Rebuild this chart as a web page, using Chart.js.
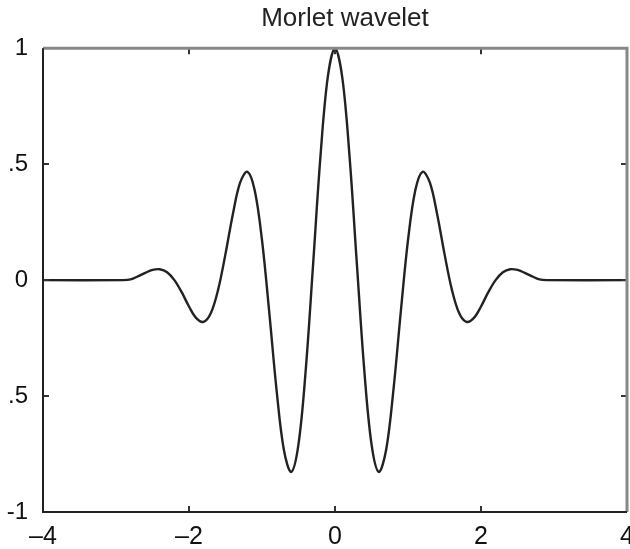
<!DOCTYPE html>
<html>
<head>
<meta charset="utf-8">
<script src="https://cdn.jsdelivr.net/npm/chart.js@4"></script>
<style>
  html, body { margin: 0; padding: 0; background: #fff; }
  canvas { display: block; }
</style>
</head>
<body>
<canvas id="waveletChart" width="630" height="549"></canvas>
<script>
// valeurs (ondelette de Morlet)
const xs = [-4, -2.9,
  -2.8, -2.7, -2.6, -2.5, -2.4, -2.3, -2.2, -2.1, -2.0, -1.9,
  -1.8, -1.7, -1.6, -1.5, -1.4, -1.3, -1.2, -1.1, -1.0, -0.9,
  -0.8, -0.7, -0.6, -0.5, -0.4, -0.3, -0.2, -0.1,
  0,
  0.1, 0.2, 0.3, 0.4, 0.5, 0.6, 0.7, 0.8, 0.9, 1.0,
  1.1, 1.2, 1.3, 1.4, 1.5, 1.6, 1.7, 1.8, 1.9, 2.0,
  2.1, 2.2, 2.3, 2.4, 2.5, 2.6, 2.7, 2.8,
  2.9, 4];
const ys = [0, 0,
  0.003, 0.016, 0.031, 0.044, 0.047, 0.034, 0.000, -0.052, -0.114, -0.164,
  -0.180, -0.142, -0.040, 0.113, 0.283, 0.420, 0.467, 0.387, 0.172, -0.141,
  -0.475, -0.733, -0.827, -0.707, -0.384, 0.068, 0.530, 0.873,
  1,
  0.873, 0.530, 0.068, -0.384, -0.707, -0.827, -0.733, -0.475, -0.141, 0.172,
  0.387, 0.467, 0.420, 0.283, 0.113, -0.040, -0.142, -0.180, -0.164, -0.114,
  -0.052, 0.000, 0.034, 0.047, 0.044, 0.031, 0.016, 0.003,
  0, 0];
const xTicks = [-4, -2, 0, 2, 4];
const xTickLabels = ['\u20134', '\u20132', '0', '2', '4'];
const yTicks = [-1, -0.5, 0, 0.5, 1];
const yTickLabels = ['-1', '.5', '0', '.5', '1'];

const fontFamily = '"Liberation Sans", Arial, Helvetica, sans-serif';

// cadre + graduations vers l'intérieur (style matlab)
const framePlugin = {
    id: 'frame',
    afterLayout(chart) {
        // titre centré au-dessus du cadre, pas du canvas
        if (chart.titleBlock) {
            chart.titleBlock.left = chart.chartArea.left + 10;
            chart.titleBlock.right = chart.chartArea.right + 10;
        }
    },
    afterDatasetsDraw(chart) {
        const { ctx, chartArea: a, scales } = chart;
        const len = 6;
        ctx.save();
        ctx.strokeStyle = '#333';
        ctx.lineWidth = 2;
        xTicks.slice(1, -1).forEach(v => {
            const px = Math.round(scales.x.getPixelForValue(v));
            ctx.beginPath();
            ctx.moveTo(px, a.bottom); ctx.lineTo(px, a.bottom - len);
            ctx.moveTo(px, a.top); ctx.lineTo(px, a.top + len);
            ctx.stroke();
        });
        yTicks.slice(1, -1).forEach(v => {
            const py = Math.round(scales.y.getPixelForValue(v));
            ctx.beginPath();
            ctx.moveTo(a.left, py); ctx.lineTo(a.left + len, py);
            ctx.moveTo(a.right, py); ctx.lineTo(a.right - len, py);
            ctx.stroke();
        });
        // haut et droite un peu plus clairs
        ctx.strokeStyle = '#888';
        ctx.lineWidth = 3;
        ctx.beginPath();
        ctx.moveTo(a.left, a.top); ctx.lineTo(a.right, a.top); ctx.lineTo(a.right, a.bottom);
        ctx.stroke();
        ctx.strokeStyle = '#222';
        ctx.lineWidth = 2;
        ctx.beginPath();
        ctx.moveTo(a.left, a.top); ctx.lineTo(a.left, a.bottom); ctx.lineTo(a.right, a.bottom);
        ctx.stroke();
        ctx.restore();
    }
};

const ctx = document.getElementById('waveletChart').getContext('2d');
new Chart(ctx, {
    type: 'line',
    data: {
        datasets: [{
            data: xs.map((x, i) => ({ x: x, y: ys[i] })),
            borderColor: '#222',
            borderWidth: 2.4,
            pointRadius: 0,
            tension: 0.35,
            fill: false,
            clip: 4
        }]
    },
    options: {
        responsive: false,
        animation: false,
        layout: { padding: { left: 0, right: 3, top: 0, bottom: 0 } },
        plugins: {
            legend: { display: false },
            tooltip: { enabled: false },
            title: {
                display: true,
                text: 'Morlet wavelet',
                color: '#222',
                font: { family: fontFamily, size: 26, weight: 'normal' },
                padding: { top: 3, bottom: 14 }
            }
        },
        scales: {
            x: {
                type: 'linear',
                min: -4,
                max: 4,
                grid: { display: false },
                border: { display: false },
                afterBuildTicks: s => { s.ticks = xTicks.map(v => ({ value: v })); },
                afterFit: s => { s.paddingLeft = 0; s.paddingRight = 0; s.height = 37; },
                ticks: {
                    color: '#111',
                    padding: 2,
                    maxRotation: 0,
                    autoSkip: false,
                    font: { family: fontFamily, size: 25 },
                    callback: (v) => xTickLabels[xTicks.indexOf(v)]
                }
            },
            y: {
                min: -1,
                max: 1,
                grid: { display: false },
                border: { display: false },
                afterBuildTicks: s => { s.ticks = yTicks.map(v => ({ value: v })); },
                afterFit: s => { s.paddingTop = 0; s.paddingBottom = 0; s.width = 43; },
                ticks: {
                    color: '#111',
                    padding: 7,
                    autoSkip: false,
                    font: { family: fontFamily, size: 24 },
                    callback: (v) => yTickLabels[yTicks.indexOf(v)]
                }
            }
        }
    },
    plugins: [framePlugin]
});
</script>
</body>
</html>
